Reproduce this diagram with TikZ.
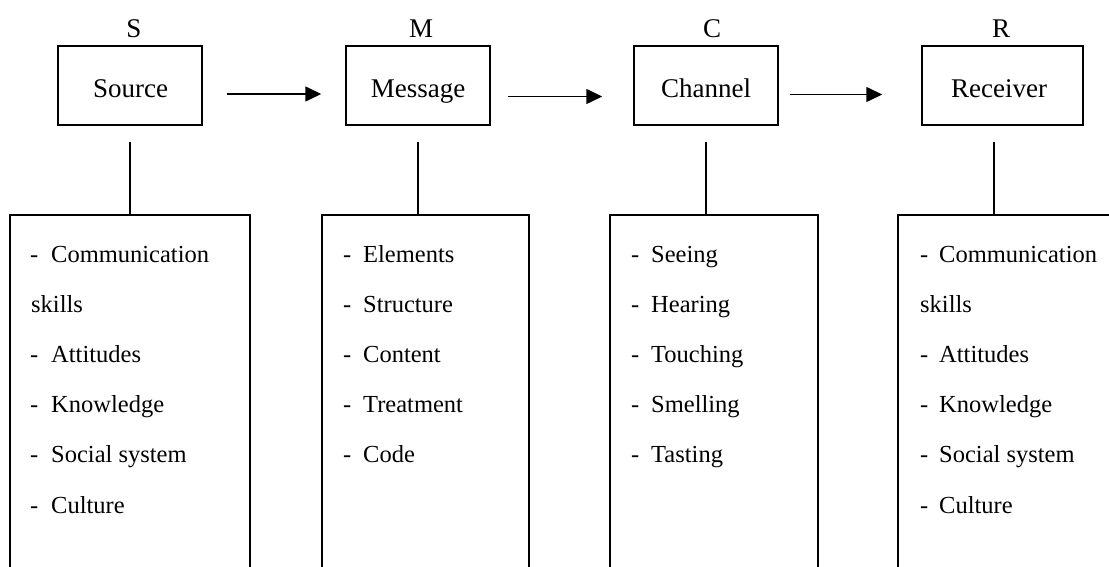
\documentclass[tikz,border=0pt]{standalone}
\usepackage{fontspec}
\setmainfont{Liberation Serif}
\usetikzlibrary{arrows.meta}
\begin{document}
\begin{tikzpicture}[x=1pt,y=-1pt,
  box/.style={draw, line width=1.5pt, inner sep=0pt},
  lbl/.style={font=\fontsize{27}{30}\selectfont, anchor=base, inner sep=0pt},
  item/.style={font=\fontsize{24.5}{28}\selectfont, anchor=base west, inner sep=0pt},
  conn/.style={line width=1.5pt},
  arr/.style={line width=1.6pt, -{Triangle[length=16pt,width=15pt]}}]
\useasboundingbox (0,0) rectangle (1109,567);
\clip (0,0) rectangle (1109,567);
\fill[white] (0,0) rectangle (1109,567);
% top boxes
\node[box, minimum width=144pt, minimum height=79pt] (src) at (130,85.5) {};
\node[box, minimum width=144pt, minimum height=79pt] (msg) at (418,85.5) {};
\node[box, minimum width=144pt, minimum height=79pt] (chn) at (706,85.5) {};
\node[box, minimum width=161pt, minimum height=79pt] (rcv) at (1002.5,85.5) {};
\node[lbl] (srct) at (130.5,98) {Source};
\node[lbl] (msgt) at (418,98) {Message};
\node[lbl] (chnt) at (706,98) {Channel};
\node[lbl] (rcvt) at (999,98) {Receiver};
\node[lbl] (ls) at (134,38) {S};
\node[lbl] (lm) at (421,38) {M};
\node[lbl] (lc) at (712,38) {C};
\node[lbl] (lr) at (1001,38) {R};
% arrows
\draw[arr, shorten <=24pt, shorten >=24pt] ([yshift=-8.5pt]src.east) -- ([yshift=-8.5pt]msg.west);
\draw[arr, shorten <=17pt, shorten >=31pt] ([yshift=-11pt]msg.east) -- ([yshift=-11pt]chn.west);
\draw[arr, shorten <=11pt, shorten >=39pt] ([yshift=-9pt]chn.east) -- ([yshift=-9pt]rcv.west);
% bottom boxes
\node[box, minimum width=240pt, minimum height=390pt] (srcl) at (130,410) {};
\node[box, minimum width=207pt, minimum height=390pt] (msgl) at (425.5,410) {};
\node[box, minimum width=208pt, minimum height=390pt] (chnl) at (714,410) {};
\node[box, minimum width=240pt, minimum height=390pt] (rcvl) at (1018,410) {};
% vertical connectors
\coordinate (st) at (130,142);
\coordinate (mt) at (418,142);
\coordinate (ct) at (706,142);
\coordinate (rt) at (994,142);
\draw[conn] (st) -- (st |- srcl.north);
\draw[conn] (mt) -- (mt |- msgl.north);
\draw[conn] (ct) -- (ct |- chnl.north);
\draw[conn] (rt) -- (rt |- rcvl.north);
% source list
\node[item] (s1d) at (30,262) {-};
\node[item] (s1) at (51,262) {Communication};
\node[item] (s2) at (31,312.2) {skills};
\foreach \t [count=\i from 3] in {Attitudes, Knowledge, Social system, Culture} {
  \node[item] (s\i d) at (30,{262+50.2*(\i-1)}) {-};
  \node[item] (s\i) at (51,{262+50.2*(\i-1)}) {\t};
}
% receiver list
\node[item] (r1d) at (920,262) {-};
\node[item] (r1) at (939,262) {Communication};
\node[item] (r2) at (920,312.2) {skills};
\foreach \t [count=\i from 3] in {Attitudes, Knowledge, Social system, Culture} {
  \node[item] (r\i d) at (920,{262+50.2*(\i-1)}) {-};
  \node[item] (r\i) at (939,{262+50.2*(\i-1)}) {\t};
}
% message list
\foreach \t [count=\i] in {Elements, Structure, Content, Treatment, Code} {
  \node[item] (m\i d) at (343,{262+50.2*(\i-1)}) {-};
  \node[item] (m\i) at (363,{262+50.2*(\i-1)}) {\t};
}
% channel list
\foreach \t [count=\i] in {Seeing, Hearing, Touching, Smelling, Tasting} {
  \node[item] (c\i d) at (631,{262+50.2*(\i-1)}) {-};
  \node[item] (c\i) at (651,{262+50.2*(\i-1)}) {\t};
}
\end{tikzpicture}
\end{document}
